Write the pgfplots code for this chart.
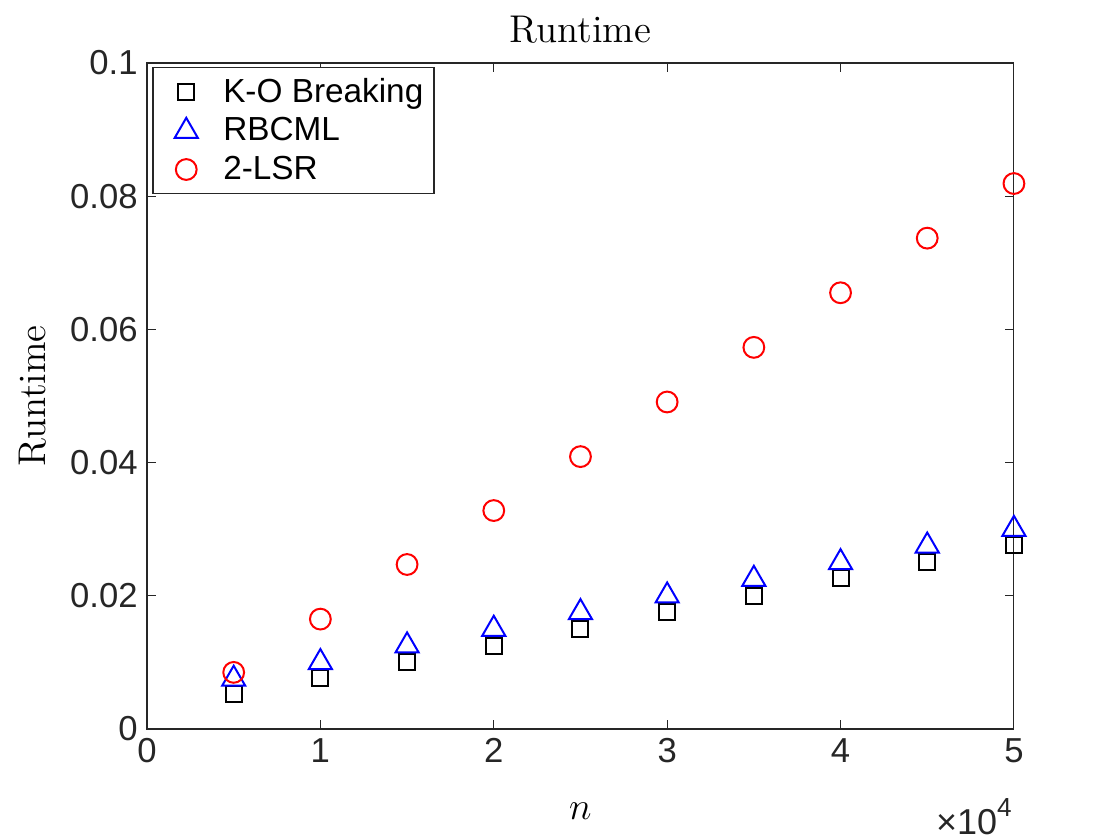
\documentclass[border=0pt]{standalone}
\usepackage{pgfplots}
\pgfplotsset{compat=1.18}
\usepackage{fontspec}
\newfontfamily\helv{Liberation Sans}
\definecolor{axgray}{rgb}{0.15,0.15,0.15}
\begin{document}
\begin{tikzpicture}[x=1pt,y=1pt]
\path[use as bounding box] (0,0) rectangle (420,315);
\begin{axis}[
  scale only axis,
  clip=false,
  width=325.1pt, height=249.75pt,
  at={(55.125pt,41.625pt)}, anchor=south west,
  xmin=0, xmax=50000, ymin=0, ymax=0.1,
  xtick={0,10000,20000,30000,40000,50000},
  xticklabels={0,1,2,3,4,5},
  ytick={0,0.02,0.04,0.06,0.08,0.1},
  yticklabels={0,0.02,0.04,0.06,0.08,0.1},
  scaled x ticks=false,
  scaled y ticks=false,
  tick label style={font=\helv\fontsize{13}{15}\selectfont, color=axgray},
  tick align=inside,
  major tick length=3.4pt,
  axis line style={color=axgray, line width=0.4pt},
  every tick/.style={color=axgray, line width=0.4pt},
  title={Runtime},
  title style={font=\fontsize{14.5}{17}\selectfont, yshift=-2pt},
  xlabel={$n$},
  ylabel={Runtime},
  label style={font=\fontsize{14.5}{17}\selectfont},
  xlabel style={yshift=-8.3pt},
  ylabel style={yshift=2pt},
  legend image code/.code={%
    \node[inner sep=0pt, minimum size=0pt, draw=none, fill=none] at (0pt,0pt) {};
    \draw[mark repeat=2,mark phase=2,#1] plot coordinates {(0pt,0pt) (10.9pt,0pt) (21.8pt,0pt)};
    \node[inner sep=0pt, minimum size=0pt, draw=none, fill=none] at (22.4pt,0pt) {};},
  legend style={at={(0.006,0.994)}, anchor=north west, draw=axgray, line width=0.5pt,
    font=\helv\fontsize{12.5}{15}\selectfont, cells={anchor=west}, row sep=0.15pt,
    inner xsep=2pt, inner ysep=2pt},
  legend cell align=left,
]
\addplot[only marks, mark=square, mark size=3pt, black, line width=0.75pt] coordinates {
(5000,0.0052) (10000,0.0076) (15000,0.0100) (20000,0.0125) (25000,0.0150)
(30000,0.0175) (35000,0.0200) (40000,0.0226) (45000,0.0251) (50000,0.0276)};
\addlegendentry{K-O Breaking}
\addplot[only marks, mark=triangle, mark size=5pt, blue, line width=0.75pt] coordinates {
(5000,0.0075) (10000,0.0100) (15000,0.0125) (20000,0.0150) (25000,0.0175)
(30000,0.0200) (35000,0.0225) (40000,0.0250) (45000,0.0275) (50000,0.0300)};
\addlegendentry{RBCML}
\addplot[only marks, mark=o, mark size=3.9pt, red, line width=0.75pt] coordinates {
(5000,0.0085) (10000,0.0165) (15000,0.0247) (20000,0.0328) (25000,0.0409)
(30000,0.0491) (35000,0.0573) (40000,0.0655) (45000,0.0737) (50000,0.0819)};
\addlegendentry{2-LSR}
\node[anchor=base east, font=\helv\fontsize{13.5}{15}\selectfont, color=axgray, inner sep=0pt] at (rel axis cs:0.998,-0.158) {×10\raisebox{6.6pt}{\fontsize{9.8}{11}\selectfont 4}};
\end{axis}
\end{tikzpicture}
\end{document}
